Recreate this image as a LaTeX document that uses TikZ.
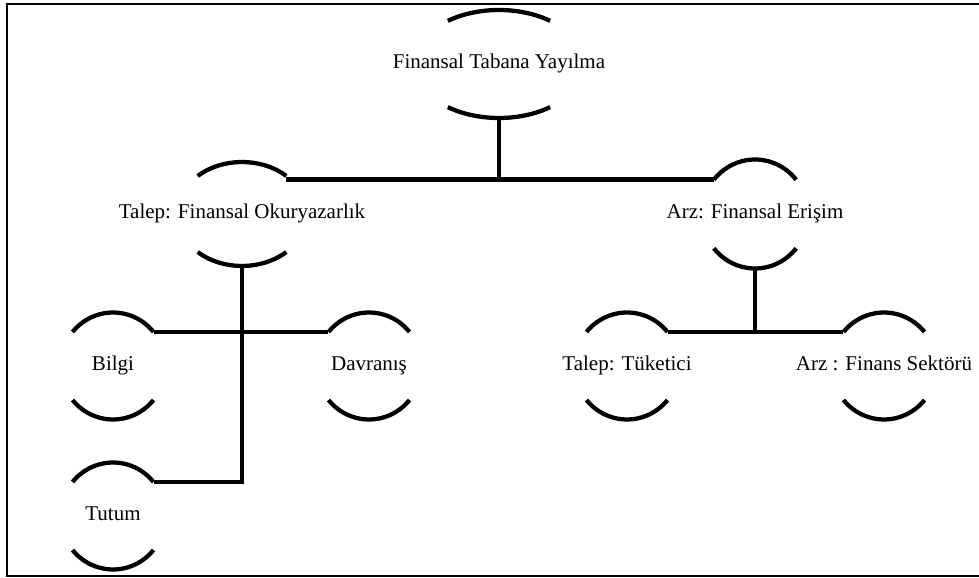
\documentclass[tikz,border=0pt]{standalone}
\usepackage{fontspec}
\setmainfont{Liberation Serif}
\usepackage{tikz}
\usetikzlibrary{positioning}

% two arcs of an ellipse round a node: #1 node, #2 x radius, #3 y radius, #4 end angle
\newcommand{\rings}[4]{%
  \path (#1.center) ++(#4:#2 and #3) coordinate (#1-ne)
        (#1.center) ++(180-#4:#2 and #3) coordinate (#1-nw)
        (#1.center) ++(0,-#3) coordinate (#1-s);
  \draw[ring] (#1-ne) arc[start angle=#4, end angle=180-#4, x radius=#2, y radius=#3];
  \draw[ring] (#1.center) ++(-#4:#2 and #3) arc[start angle=-#4, end angle=-180+#4, x radius=#2, y radius=#3];
}

\begin{document}
\begin{tikzpicture}[x=0.75pt,y=0.75pt,
    ring/.style={line width=3.2pt},
    link/.style={line width=3.6pt},
    every node/.style={font=\fontsize{15.75}{18}\selectfont,
      text height=0.75em, text depth=0.1em}]
    \useasboundingbox (0,0) rectangle (979,578);
    \draw[line width=1.1pt] (979,574) -- (7,574) -- (7,2) -- (979,2);

    \node (top)      at (499,514) {Finansal Tabana Yayılma};
    \node (talep)    at (242,364) {Talep: Finansal Okuryazarlık};
    \node (arz)      at (755,364) {Arz: Finansal Erişim};
    \node (bilgi)    at (113,212) {Bilgi};
    \node (davranis) at (369,212) {Davranış};
    \node (tutum)    at (113,62)  {Tutum};
    \node (tuketici) at (627,212) {Talep: Tüketici};
    \node (sektor)   at (884,212) {Arz : Finans Sektörü};

    \rings{top}{85}{54}{53}
    \rings{talep}{65}{52}{47}
    \rings{arz}{53}{54.5}{39}
    \rings{bilgi}{52.5}{53.5}{39.5}
    \rings{davranis}{52.5}{53.5}{39.5}
    \rings{tutum}{52.5}{53.5}{39.5}
    \rings{tuketici}{52.5}{53.5}{39.5}
    \rings{sektor}{52.5}{53.5}{39.5}

    \draw[link] (talep-ne |- arz-nw) -- (arz-nw);
    \draw[link] (top-s) -- (top-s |- arz-nw);
    \draw[link] (tuketici-ne) -- (sektor-nw);
    \draw[link] (arz-s) -- (arz-s |- tuketici-ne);
    \draw[link] (bilgi-ne) -- (davranis-nw);
    \draw[link] (talep-s) |- (tutum-ne);
\end{tikzpicture}
\end{document}
